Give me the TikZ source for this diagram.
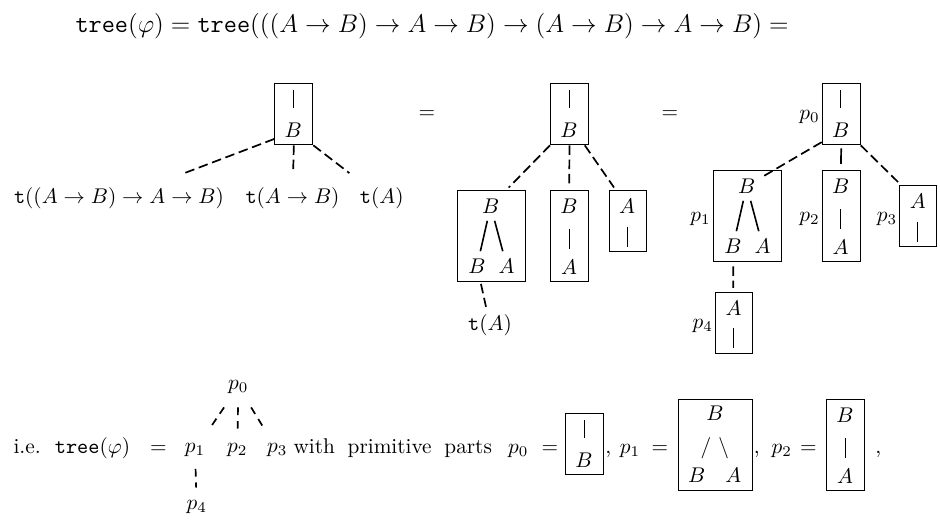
\documentclass[tikz,border=0pt]{standalone}
\usepackage{amsmath,amssymb}
\usetikzlibrary{positioning}

\begin{document}
\begin{tikzpicture}[
    x=0.47pt, y=-0.47pt,
    framebox/.style={
        draw=black, line width=0.45pt,
        inner sep=0pt, anchor=north west,
    },
    barline/.style={line width=0.45pt},
    branch/.style={line width=0.75pt},
    link/.style={line width=0.8pt, dash pattern=on 4.5pt off 2.2pt},
    twig/.style={line width=0.8pt, dash pattern=on 3.6pt off 2.8pt},
    leaf/.style={inner sep=6.5pt},
    plabel/.style={inner sep=0.8pt, yshift=-1.4pt},
    % bar over B
    pics/rootbox/.style={code={
        \node[framebox, minimum width=17.9pt, minimum height=28.7pt] (-box) at (0,0) {};
        \draw[barline] (19,7) -- (19,25);
        \node (-b) at (19,47) {$B$};
    }},
    % A over bar
    pics/leafbox/.style={code={
        \node[framebox, minimum width=17.4pt, minimum height=28.7pt] (-box) at (0,0) {};
        \node (-a) at (18.5,16.5) {$A$};
        \draw[barline] (18.5,36.5) -- (18.5,56.5);
    }},
    % B, bar, A
    pics/chainbox/.style={code={
        \node[framebox, minimum width=17.9pt, minimum height=42.8pt] (-box) at (0,0) {};
        \node (-b) at (19,16) {$B$};
        \draw[barline] (19,39) -- (19,59);
        \node (-a) at (19,77) {$A$};
    }},
    % B forking into B and A
    pics/forkbox/.style={code={
        \node[framebox, minimum width=32pt, minimum height=42.8pt] (-box) at (0,0) {};
        \node (-top) at (34,16) {$B$};
        \node (-l) at (20.3,76) {$B$};
        \node (-r) at (50,76) {$A$};
        \draw[branch] (-top) -- (-l);
        \draw[branch] (-top) -- (-r);
    }},
    % same fork, written with slashes
    pics/slashbox/.style={code={
        \node[framebox, minimum width=35.1pt, minimum height=42.8pt] (-box) at (0,0) {};
        \node (-top) at (37.3,14.3) {$B$};
        \node (-mid) at (37,49.3) {$/\ \backslash$};
        \node (-l) at (19,76) {$B$};
        \node (-r) at (55.6,76) {$A$};
    }},
]
\useasboundingbox (0,0) rectangle (940,520);

% ── Head line ───────────────────────────────────────────────
\node[font=\large, anchor=base west] (head) at (68,32)
    {$\texttt{tree}(\varphi) = \texttt{tree}(((A \to B) \to A \to B) \to (A \to B) \to A \to B) =$};

% ── First tree ──────────────────────────────────────────────
\pic (lt) at (274.3,83.3) {rootbox};
\node[leaf, anchor=base] (l1) at (119,203.3) {\texttt{t}$((A \to B) \to A \to B)$};
\node[leaf, anchor=base] (l2) at (292.5,203.3) {\texttt{t}$(A \to B)$};
\node[leaf, anchor=base] (l3) at (381.7,203.3) {\texttt{t}$(A)$};
\draw[link] ([yshift=3pt]lt-box.south west) -- (l1);
\draw[link] (lt-box.south) -- (l2);
\draw[link] (lt-box.south east) -- (l3);

\node[anchor=base] (eq1) at (427,118.3) {$=$};

% ── Second tree ─────────────────────────────────────────────
\pic (mt) at (550,83.3) {rootbox};
\pic (mt1) at (456.7,190) {forkbox};
\pic (mt2) at (550,190) {chainbox};
\pic (mt3) at (608.7,190) {leafbox};
\node[anchor=base] (ta) at (490,330.3) {\texttt{t}$(A)$};
\draw[link, shorten >=2.4pt] (mt-box.south west) -- (mt1-top);
\draw[link, shorten >=2.4pt] (mt-box.south) -- (mt2-b);
\draw[link, shorten >=2.4pt] ([xshift=-2pt]mt-box.south east) -- (mt3-a);
\draw[link, shorten <=1.5pt] (mt1-l) -- (ta);

\node[anchor=base] (eq2) at (670,118.3) {$=$};

% ── Third tree, with part names ─────────────────────────────
\pic (p0) at (821.7,83.3) {rootbox};
\pic (p1) at (712.7,170) {forkbox};
\pic (p2) at (821.7,170) {chainbox};
\pic (p3) at (899.3,185) {leafbox};
\pic (p4) at (715,291.7) {leafbox};
\foreach \k in {0,...,4} {
    \node[plabel, left=0pt of p\k-box] (p\k lbl) {$p_\k$};
}
\draw[link] ([yshift=1.5pt]p0-box.south west) -- (p1-top);
\draw[line width=0.8pt, shorten <=1.4pt, shorten >=3.4pt] (p0-box.south) -- (p2-b);
\draw[link, shorten >=3pt] (p0-box.south east) -- (p3-a);
\draw[link, shorten <=2.6pt, shorten >=2.6pt] (p1-l) -- (p4-a);

% ── Bottom line ─────────────────────────────────────────────
\node[anchor=base west] (ie) at (6,453) {i.e.\ \ \texttt{tree}$(\varphi)$};
\node[anchor=base] (eq3) at (158.5,453) {$=$};
\node[leaf, anchor=base] (b0) at (238.3,389) {$p_0$};
\node[leaf, anchor=base] (b1) at (195,452.6) {$p_1$};
\node[leaf, anchor=base] (b2) at (237.3,452.6) {$p_2$};
\node[leaf, anchor=base] (b3) at (277.3,452.6) {$p_3$};
\node[leaf, anchor=base] (b4) at (196.7,509) {$p_4$};
\draw[twig] (b0) -- (b1);
\draw[twig] (b0) -- (b2);
\draw[twig] (b0) -- (b3);
\draw[twig, shorten <=-1pt, shorten >=-1pt] (b1) -- (b4);

\node[anchor=base west] (with) at (286,453) {\spaceskip=6pt with primitive parts};
\node[anchor=base] (qp0) at (518.3,453) {$p_0$};
\node[anchor=base] (qe0) at (550,453) {$=$};
\pic (q0) at (565,413.3) {rootbox};
\node[anchor=base] (qc0) at (608.3,453) {,};
\node[anchor=base] (qp1) at (630,453) {$p_1$};
\node[anchor=base] (qe1) at (660,453) {$=$};
\pic (q1) at (677.7,399) {slashbox};
\node[anchor=base] (qc1) at (756.7,453) {,};
\node[anchor=base] (qp2) at (781.7,453) {$p_2$};
\node[anchor=base] (qe2) at (808.3,453) {$=$};
\pic (q2) at (826,399) {chainbox};
\node[anchor=base] (qc2) at (878.3,453) {,};

\end{tikzpicture}
\end{document}
